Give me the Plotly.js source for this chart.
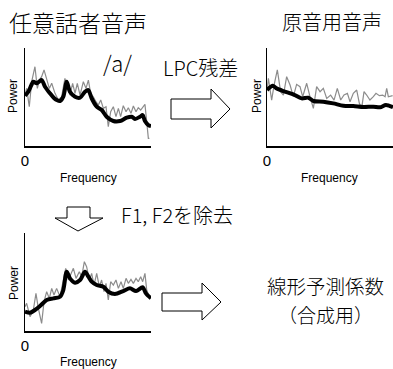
<!DOCTYPE html>
<html><head><meta charset="utf-8">
<script src="https://cdn.plot.ly/plotly-3.0.1.min.js"></script>
<style>html,body{margin:0;padding:0;background:#fff}#c{width:393px;height:369px}</style>
</head><body><div id="c"></div>
<script>
// ---- data (frequency 0..100, power 0..100) ----
const s1GrayX = [0,1.3,3.4,5.3,7.9,9.8,11.4,13.2,15.1,17.2,19.3,21.2,23.8,26.5,29.1,31.7,33.6,35.7,37.8,39.7,41.5,43.7,46.3,48.4,50.3,52.1,54.2,56.3,58.2,60.1,62.2,64.3,66.1,68.0,70.1,72.2,74.1,75.9,78.0,80.2,82.0,84.1,86.0,88.1,89.9,91.8,93.9,95.2,96.6,97.9,98.7];
const s1GrayY = [52.0,58.8,40.1,65.6,80.9,58.8,67.3,70.7,77.6,67.3,58.8,64.0,53.7,46.9,50.3,69.0,58.8,52.0,64.0,53.7,64.0,52.0,65.6,58.8,67.3,53.7,50.3,45.2,41.8,46.9,38.4,40.1,19.7,35.0,40.1,29.9,38.4,29.9,41.1,35.0,39.1,33.3,40.8,35.0,39.1,36.7,40.1,42.5,24.8,7.8,7.8];
const s1BlackX = [0,2.6,5,6.6,9.3,11.5,13.3,15.9,19.8,23,25.2,27.8,30.4,33.1,35.7,39.7,43.7,47.6,50.2,52.9,56.9,60.9,64.8,70.1,75.4,80.7,84.7,87.3,91.3,93.4,95.2,97.9,100];
const s1BlackY = [51.3,55.4,62,65.6,64.0,66,67.3,60.5,53.8,49,46.9,45.9,50.3,65.6,55.4,50.3,49.3,55.4,57.1,48.7,40.1,36.7,29.9,25.5,25.5,28.9,29.9,27.6,29.9,31.6,25.5,21.4,20.4];

const s2GrayX = [0,1.1,3.7,5.6,8.2,10.8,13.0,15.6,18.3,20.9,23.5,26.2,28.3,31.5,34.1,36.8,39.4,42.1,44.7,47.4,50.5,53.2,55.8,58.5,61.1,63.8,65.9,68.5,71.2,73.3,75.1,77.0,79.1,81.7,84.4,86.5,89.2,91.8,93.7,95.0,96.3,99.7];
const s2GrayY = [57.1,69.0,46.9,62.2,77.6,55.4,52.0,70.7,62.2,50.3,62.9,60.5,50.3,64.0,50.3,38.4,60.5,55.4,58.8,48.6,52.0,46.9,58.8,46.9,52.0,53.7,45.2,53.7,57.1,43.5,38.4,55.4,52.0,46.9,50.3,53.7,51.4,52.0,50.3,58.8,50.3,51.4];
const s2BlackX = [0,4.5,7.7,13.0,20.9,27.5,32.8,36.8,44.7,52.6,60.6,68.5,76.5,84.4,89.7,94.4,100];
const s2BlackY = [57.1,61.5,58.8,56.1,52.7,48.6,49.3,45.9,45.2,43.5,41.1,40.8,39.8,40.1,39.5,41.8,39.5];

const s3GrayX = [0,1.3,4.0,6.6,8.7,10.6,13.2,15.1,17.2,19.3,21.2,23.0,25.1,27.8,30.4,32.3,34.4,36.2,38.4,40.5,43.1,45.0,47.1,48.9,51.1,52.9,54.8,56.9,59.0,60.8,62.7,64.3,66.1,68.0,70.1,72.2,74.1,76.2,78.0,80.2,82.0,84.1,86.0,88.1,89.9,91.8,93.4,95.2,96.6,98.7];
const s3GrayY = [24.8,28.2,14.6,21.4,38.4,23.1,7.8,29.9,40.1,33.3,43.5,36.7,43.5,35.0,52.0,64.0,52.0,57.1,64.0,53.7,60.5,55.4,70.7,65.6,52.0,58.8,46.9,58.8,45.2,52.0,40.1,48.6,31.6,50.3,46.9,52.0,43.5,50.3,43.5,53.7,48.6,52.7,48.6,53.7,50.3,55.4,50.3,58.8,41.8,35.0];
const s3BlackX = [0,4.0,7.9,11.9,17.2,22.5,27.8,30.4,33.1,35.7,39.7,43.7,47.6,50.3,52.9,56.9,62.2,66.1,71.4,78.0,83.3,88.1,93.4,96.0,100];
const s3BlackY = [19.7,18.7,21.4,25.5,31.6,33.3,35.0,41.8,60.5,53.7,49.3,52.0,60.5,55.4,50.3,46.9,45.2,40.1,37.8,40.8,43.5,40.8,44.6,38.4,33.3];

const zeroTick = ['0'];

// ---- layout helpers ----
const W = 393, H = 369;
const PX = x => x / W, PY = y => 1 - y / H;
const FONT = 'Liberation Sans, Arial, Noto Sans CJK JP, sans-serif';
const FONT_JP = 'Noto Sans CJK JP, sans-serif';

function gray(x, y, xa, ya) {
  return {x, y, xaxis: xa, yaxis: ya, type: 'scatter', mode: 'lines',
    line: {color: '#8c8c8c', width: 1.2}, hoverinfo: 'skip'};
}
function black(x, y, xa, ya) {
  return {x, y, xaxis: xa, yaxis: ya, type: 'scatter', mode: 'lines',
    line: {color: '#000', width: 4, shape: 'spline', smoothing: 0.8}, hoverinfo: 'skip'};
}
const data = [
  gray(s1GrayX, s1GrayY, 'x', 'y'), black(s1BlackX, s1BlackY, 'x', 'y'),
  gray(s2GrayX, s2GrayY, 'x2', 'y2'), black(s2BlackX, s2BlackY, 'x2', 'y2'),
  gray(s3GrayX, s3GrayY, 'x3', 'y3'), black(s3BlackX, s3BlackY, 'x3', 'y3')
];

function xax(d, anchor) {
  return {domain: d, anchor, range: [0, 100], showgrid: false, zeroline: false,
    showline: true, linecolor: '#000', linewidth: 1.5, ticks: '',
    tickvals: [0], ticktext: zeroTick, tickfont: {size: 15, family: FONT, color: '#000'}, fixedrange: true};
}
function yax(d, anchor) {
  return {domain: d, anchor, range: [0, 100], showgrid: false, zeroline: false,
    showline: true, linecolor: '#000', linewidth: 1.5, ticks: '', showticklabels: false, fixedrange: true};
}

function ann(text, x, y, size, extra, fam) {
  return Object.assign({text, x: PX(x), y: PY(y), xref: 'paper', yref: 'paper',
    showarrow: false, xanchor: 'center', yanchor: 'middle', borderpad: 0,
    font: {size, family: fam || FONT, color: '#000', weight: 300}}, extra || {});
}

function arrowRight(x0, bt, bb, hx, ht, hb, tx, ty) {
  const pts = [[x0, bt], [hx, bt], [hx, ht], [tx, ty], [hx, hb], [hx, bb], [x0, bb]];
  return {type: 'path', xref: 'paper', yref: 'paper',
    path: 'M' + pts.map(p => PX(p[0]) + ',' + PY(p[1])).join(' L') + ' Z',
    line: {color: '#000', width: 1}, fillcolor: '#fff'};
}
function arrowDown(bl, br, y0, hy, hl, hr, tx, ty) {
  const pts = [[bl, y0], [br, y0], [br, hy], [hr, hy], [tx, ty], [hl, hy], [bl, hy]];
  return {type: 'path', xref: 'paper', yref: 'paper',
    path: 'M' + pts.map(p => PX(p[0]) + ',' + PY(p[1])).join(' L') + ' Z',
    line: {color: '#000', width: 1}, fillcolor: '#fff'};
}

const layout = {
  width: W, height: H, margin: {l: 0, r: 0, t: 0, b: 0},
  paper_bgcolor: '#fff', plot_bgcolor: 'rgba(0,0,0,0)', showlegend: false,
  xaxis: xax([PX(25), PX(151)], 'y'), yaxis: yax([PY(146), PY(48)], 'x'),
  xaxis2: xax([PX(267), PX(393)], 'y2'), yaxis2: yax([PY(146), PY(48)], 'x2'),
  xaxis3: xax([PX(25), PX(151)], 'y3'), yaxis3: yax([PY(331), PY(233)], 'x3'),
  annotations: [
    ann('任意話者音声', 78, 22, 23, null, FONT_JP),
    ann('原音用音声', 332, 22, 20, null, FONT_JP),
    ann('/a/', 117, 62, 22, null, FONT_JP),
    ann('LPC残差', 201, 67, 20, null, FONT_JP),
    ann('F1, F2を除去', 177, 215, 20, null, FONT_JP),
    ann('線形予測係数', 325, 285, 19.5, null, FONT_JP),
    ann('（合成用）', 325, 314, 19, null, FONT_JP),
    ann('Frequency', 88, 178, 12),
    ann('Frequency', 329, 178, 12),
    ann('Frequency', 88, 362, 12),
    ann('Power', 13, 96, 12, {textangle: -90}),
    ann('Power', 257, 96, 12, {textangle: -90}),
    ann('Power', 14, 283, 12, {textangle: -90})
  ],
  shapes: [
    arrowRight(171, 99, 119, 211, 89, 128, 230, 109),
    arrowDown(67, 90, 207, 218, 55, 103, 78, 231),
    arrowRight(162, 293, 311, 202, 283, 320, 221, 302)
  ]
};

Plotly.newPlot('c', data, layout, {staticPlot: true, displayModeBar: false});
</script></body></html>
